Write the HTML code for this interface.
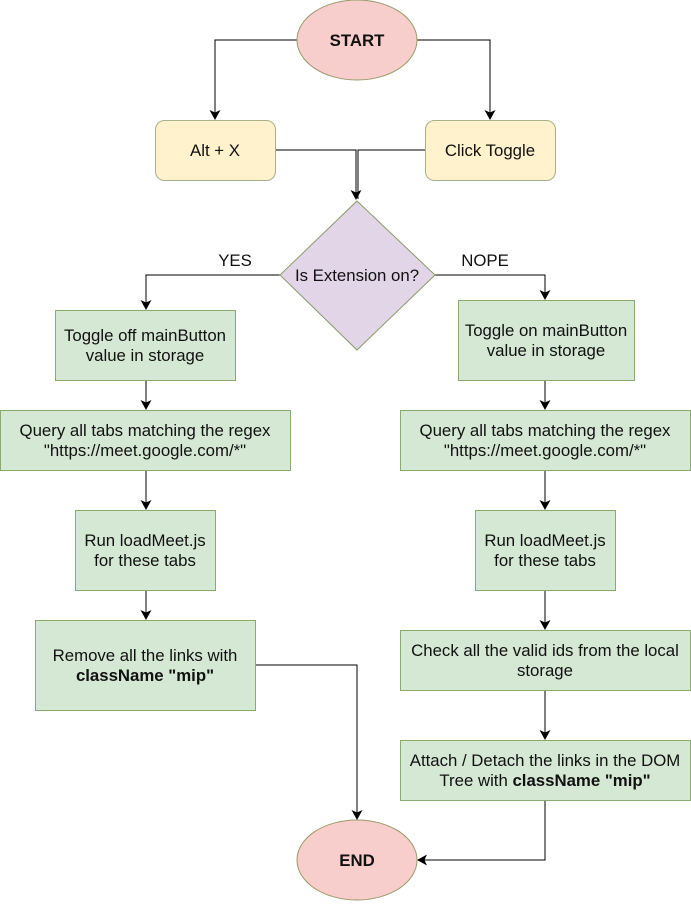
<!DOCTYPE html>
<html><head><style>
body{margin:0;background:#fff;}
svg text{font-family:"Liberation Sans",sans-serif;font-size:16.8px;fill:#111;}
</style></head><body>
<svg width="691" height="901" xmlns="http://www.w3.org/2000/svg">
<defs><marker id="a" markerWidth="10" markerHeight="11" refX="9" refY="5.5" orient="auto" markerUnits="userSpaceOnUse"><path d="M0,0 L10,5.5 L0,11 L2.5,5.5 Z" fill="#000"/></marker></defs>
<g fill="none" stroke="#000" stroke-width="1">
<path d="M297,40 H215 V119" marker-end="url(#a)"/>
<path d="M417,40 H490 V119" marker-end="url(#a)"/>
<path d="M275,150 H356 V199" marker-end="url(#a)"/>
<path d="M425,150 H358 V199"/>
<path d="M280,275 H146 V309" marker-end="url(#a)"/>
<path d="M435,275 H545 V299" marker-end="url(#a)"/>
<path d="M146,380 V409" marker-end="url(#a)"/>
<path d="M146,470 V509" marker-end="url(#a)"/>
<path d="M146,590 V619" marker-end="url(#a)"/>
<path d="M545,380 V409" marker-end="url(#a)"/>
<path d="M545,470 V509" marker-end="url(#a)"/>
<path d="M545,590 V629" marker-end="url(#a)"/>
<path d="M545,690 V739" marker-end="url(#a)"/>
<path d="M255,665 H357 V819" marker-end="url(#a)"/>
<path d="M545,800 V860 H418" marker-end="url(#a)"/>
</g>
<ellipse cx="357" cy="40" rx="60" ry="40" fill="#f8cecc" stroke="#9a9a6a"/>
<text x="357" y="46" text-anchor="middle" font-weight="bold">START</text>
<rect x="155.5" y="120.5" width="120" height="60" rx="9" fill="#fff2cc" stroke="#a8b08a"/>
<text x="215" y="156" text-anchor="middle">Alt + X</text>
<rect x="425.5" y="120.5" width="130" height="60" rx="9" fill="#fff2cc" stroke="#a8b08a"/>
<text x="490" y="156" text-anchor="middle">Click Toggle</text>
<path d="M357,201 L435,275 L357,350 L280,275 Z" fill="#e1d5e7" stroke="#8a9a6a"/>
<text x="357" y="281" text-anchor="middle">Is Extension on?</text>
<text x="235" y="266" text-anchor="middle">YES</text>
<text x="485" y="266" text-anchor="middle">NOPE</text>
<g fill="#d5e8d4" stroke="#8aaa70">
<rect x="55.5" y="310.5" width="180" height="70"/>
<rect x="0.5" y="410.5" width="290" height="60"/>
<rect x="75.5" y="510.5" width="140" height="80"/>
<rect x="35.5" y="620.5" width="220" height="90"/>
<rect x="458.5" y="300.5" width="176" height="80"/>
<rect x="400.5" y="410.5" width="290" height="60"/>
<rect x="475.5" y="510.5" width="140" height="80"/>
<rect x="400.5" y="630.5" width="290" height="60"/>
<rect x="400.5" y="740.5" width="290" height="60"/>
</g>
<g text-anchor="middle">
<text x="145" y="341">Toggle off mainButton</text><text x="145" y="361">value in storage</text>
<text x="145" y="436">Query all tabs matching the regex</text><text x="145" y="456">"https://meet.google.com/*"</text>
<text x="145" y="546">Run loadMeet.js</text><text x="145" y="566">for these tabs</text>
<text x="145" y="661">Remove all the links with</text><text x="145" y="681" font-weight="bold">className "mip"</text>
<text x="546" y="336">Toggle on mainButton</text><text x="546" y="356">value in storage</text>
<text x="545" y="436">Query all tabs matching the regex</text><text x="545" y="456">"https://meet.google.com/*"</text>
<text x="545" y="546">Run loadMeet.js</text><text x="545" y="566">for these tabs</text>
<text x="545" y="656">Check all the valid ids from the local</text><text x="545" y="676">storage</text>
<text x="545" y="766">Attach / Detach the links in the DOM</text><text x="545" y="786">Tree with <tspan font-weight="bold">className "mip"</tspan></text>
</g>
<ellipse cx="357" cy="860" rx="60" ry="40" fill="#f8cecc" stroke="#9a9a6a"/>
<text x="357" y="866" text-anchor="middle" font-weight="bold">END</text>
</svg>
</body></html>
